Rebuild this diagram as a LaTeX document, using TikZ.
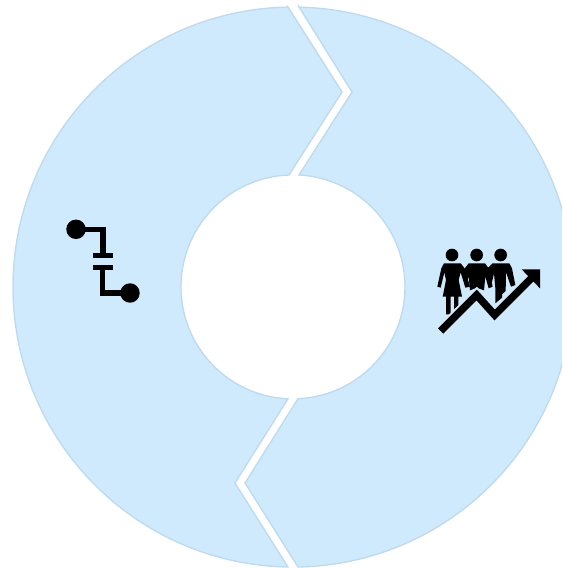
\documentclass[tikz,border=0pt]{standalone}
\definecolor{segfill}{HTML}{CFE9FD}
\definecolor{segedge}{HTML}{BEDAEC}
\tikzset{
  seg/.style={fill=segfill,draw=segedge,line width=1pt,line join=miter},
  icoline/.style={draw=black,line width=3.8pt,line join=miter}
}
\begin{document}
\begin{tikzpicture}[x=.75pt,y=.75pt]
\useasboundingbox (-293,-281) rectangle (269,287);
\clip (-293,-281) rectangle (269,287);
% left segment
\draw[seg] (-5,280) -- (49,195) -- (-4,112) arc[start angle=92.05,end angle=267.45,radius=84pt]
  -- (-58,-196) -- (-5,-280) arc[start angle=-91.02,end angle=-268.98,radius=210pt] -- cycle;
% right segment
\draw[seg] (6,280) -- (59,195) -- (6,112) arc[start angle=86.93,end angle=-87.45,radius=84pt]
  -- (-48,-196) -- (5,-280) arc[start angle=-88.98,end angle=88.77,radius=210pt] -- cycle;
% left icon
\begin{scope}[shift={(-293,287)},x=.75pt,y=-.75pt]
\fill (76,229.3) circle[radius=7.3pt];
\fill (130,293) circle[radius=7.3pt];
\draw[icoline] (76,229.3) -- (103,229.3) -- (103,255.5);
\draw[icoline] (93.3,255.5) -- (112.7,255.5);
\draw[icoline] (93.3,267.3) -- (112.7,267.3);
\draw[icoline] (102.8,267.3) -- (102.8,293) -- (130,293);
\end{scope}
% right icon, in coordinates of a 3x crop
\begin{scope}[shift={(-293,287)},x=.25pt,y=-.25pt,shift={(1260,705)}]
\fill (96,60) circle[radius=4.75pt];
\fill (170,60) circle[radius=4.75pt];
\fill (242,60) circle[radius=4.75pt];
% woman
\fill (72,85) -- (122,85) -- (134,100) -- (150,155) -- (136,158) -- (122,112) -- (116,135) -- (126,185)
 -- (115,185) -- (115,215) -- (102,222) -- (102,185) -- (92,185) -- (92,238) -- (78,238) -- (78,185) -- (68,185)
 -- (78,135) -- (73,112) -- (62,158) -- (52,155) -- (64,100) -- cycle;
% middle
\fill (146,85) -- (195,85) -- (206,100) -- (218,155) -- (206,160) -- (196,125) -- (192,166) -- (170,158) -- (150,166)
 -- (146,125) -- (136,155) -- (128,115) -- (136,98) -- cycle;
% man
\fill (218,85) -- (268,85) -- (276,100) -- (286,150) -- (273,155) -- (258,112) -- (257,168) -- (246,178) -- (246,188)
 -- (226,205) -- (226,160) -- (222,115) -- (214,150) -- (202,100) -- cycle;
% arrow
\draw[segfill,line width=8.5pt,line join=miter] (62,288) -- (170,180) -- (224,240) -- (338,126);
\fill[segfill] (298,97) -- (366,97) -- (366,170) -- cycle;
\draw[black,line width=5.6pt,line join=miter] (62,288) -- (170,180) -- (224,240) -- (338,126);
\fill (305,103) -- (360,103) -- (360,160) -- cycle;
\end{scope}
\end{tikzpicture}
\end{document}
